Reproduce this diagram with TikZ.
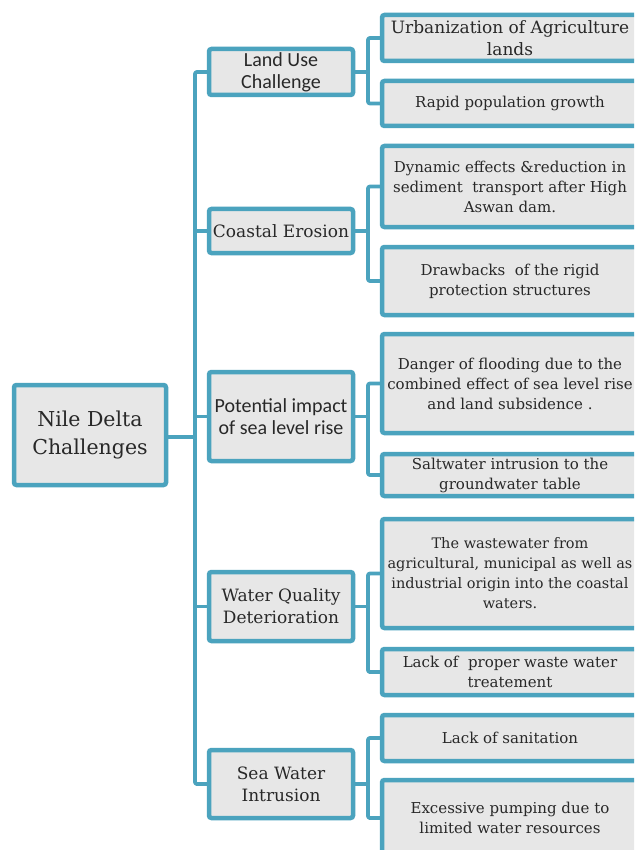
\documentclass[tikz,border=0pt]{standalone}
\usepackage{fontspec}
\setmainfont{DejaVu Serif}
\newfontfamily\calibri{Carlito}
\definecolor{tealb}{RGB}{75,163,190}
\definecolor{boxfill}{RGB}{231,231,231}
\definecolor{txt}{RGB}{40,40,40}
\begin{document}
\begin{tikzpicture}[x=1pt,y=-1pt,
  box/.style={draw=tealb, fill=boxfill, line width=4.5pt, rounded corners=2.5pt,
    inner sep=0pt, text=txt, align=center},
  conn/.style={draw=tealb, line width=3.8pt, line join=round, rounded corners=2pt},
  midbox/.style={box, minimum width=144pt},
  leafbox/.style={box, minimum width=256pt, font=\fontsize{15}{20}\selectfont},
  serifmid/.style={font=\fontsize{17}{22}\selectfont},
  sansmid/.style={font=\calibri\fontsize{20}{22}\selectfont}]
\clip (0,0) rectangle (634,850);
\fill[white] (0,0) rectangle (634,850);
% root
\node[box, minimum width=152pt, minimum height=100pt, font=\fontsize{20.5}{28}\selectfont]
  (root) at (90,435) {Nile Delta\\Challenges};
% middle level
\node[midbox, sansmid, minimum height=46pt] (land) at (281,72) {Land Use\\Challenge};
\node[midbox, serifmid, minimum height=44pt] (coast) at (281,231) {Coastal Erosion};
\node[midbox, sansmid, minimum height=89pt] (pot) at (281,416.5) {Potential impact\\of sea level rise};
\node[midbox, serifmid, minimum height=69pt] (water) at (281,606.5) {Water Quality\\Deterioration};
\node[midbox, serifmid, minimum height=68pt] (sea) at (281,784) {Sea Water\\Intrusion};
% leaves
\node[leafbox, minimum height=46pt, font=\fontsize{17}{22}\selectfont] (urban) at (510,38) {Urbanization of Agriculture\\lands};
\node[leafbox, minimum height=45pt] (rapid) at (510,103.5) {Rapid population growth};
\node[leafbox, minimum height=81pt] (dyn) at (510,186.5) {Dynamic effects \&reduction in\\sediment\ \ transport after High\\Aswan dam.};
\node[leafbox, minimum height=68pt] (draw) at (510,281) {Drawbacks\ \ of the rigid\\protection structures};
\node[leafbox, minimum height=99pt] (danger) at (510,383.5) {Danger of flooding due to the\\combined effect of sea level rise\\and land subsidence .};
\node[leafbox, minimum height=42pt] (salt) at (510,475) {Saltwater intrusion to the\\groundwater table};
\node[leafbox, minimum height=109pt, font=\fontsize{14.5}{20}\selectfont] (waste) at (510,573.5) {The wastewater from\\agricultural, municipal as well as\\industrial origin into the coastal\\waters.};
\node[leafbox, minimum height=46pt] (lackp) at (510,672) {Lack of\ \ proper waste water\\treatement};
\node[leafbox, minimum height=46pt] (lacks) at (510,738) {Lack of sanitation};
\node[leafbox, minimum height=76pt] (excess) at (510,818) {Excessive pumping due to\\limited water resources};
% connectors
\coordinate (tk) at (195,0);
\coordinate (sk) at (368,0);
\draw[conn] (land.west) -| (tk |- sea.west) -- (sea.west);
\draw[conn] (coast.west) -- (coast.west -| tk);
\draw[conn] (pot.west) -- (pot.west -| tk);
\draw[conn] (water.west) -- (water.west -| tk);
\draw[conn] ([yshift=-2pt]root.east) -- ([yshift=-2pt]root.east -| tk);
\foreach \m/\a/\b in {land/urban/rapid, coast/dyn/draw, pot/danger/salt, water/waste/lackp, sea/lacks/excess}{
  \draw[conn] (\m.east) -- (\m.east -| sk);
  \draw[conn] (\a.west) -| (sk |- \b.west) -- (\b.west);
}
\end{tikzpicture}
\end{document}
